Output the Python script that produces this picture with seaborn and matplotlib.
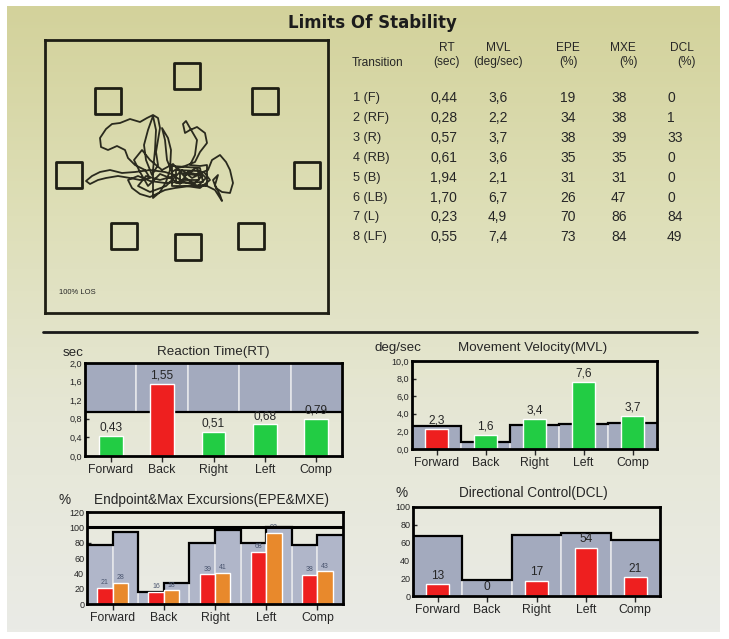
import numpy as np
import pandas as pd
import matplotlib
matplotlib.use("Agg")
import matplotlib.pyplot as plt
from matplotlib.colors import LinearSegmentedColormap
from matplotlib.ticker import FuncFormatter
import seaborn as sns

# ---- values ----
transitions = ["1 (F)", "2 (RF)", "3 (R)", "4 (RB)", "5 (B)", "6 (LB)", "7 (L)", "8 (LF)"]
rt_table = [0.44, 0.28, 0.57, 0.61, 1.94, 1.70, 0.23, 0.55]
mvl_table = [3.6, 2.2, 3.7, 3.6, 2.1, 6.7, 4.9, 7.4]
epe_table = [19, 34, 38, 35, 31, 26, 70, 73]
mxe_table = [38, 38, 39, 35, 31, 47, 86, 84]
dcl_table = [0, 1, 33, 0, 0, 0, 84, 49]

directions = ["Forward", "Back", "Right", "Left", "Comp"]
rt_values = [0.43, 1.55, 0.51, 0.68, 0.79]
rt_norm = [0.95, 0.95, 0.95, 0.95, 0.95]
mvl_values = [2.3, 1.6, 3.4, 7.6, 3.7]
mvl_norm = [2.6, 0.8, 2.7, 2.8, 3.0]
epe_values = [21, 16, 39, 68, 38]
mxe_values = [28, 18, 41, 93, 43]
epe_norm = [77, 16, 80, 80, 77]
mxe_norm = [94, 28, 96, 100, 90]
dcl_values = [13, 0, 17, 54, 21]
dcl_norm = [67, 18, 68, 71, 63]

# LOS screen: target boxes and the COG trace (screen pixel coords)
target_x = [187, 265, 307, 251, 188, 124, 69, 108]
target_y = [76, 101, 175, 236, 247, 236, 175, 101]
trace = [
    (175, 175), (165, 172), (150, 170), (135, 172), (122, 173), (110, 170), (100, 172), (92, 176),
    (86, 181), (90, 184), (98, 180), (106, 178), (118, 176), (130, 178), (140, 180), (150, 178),
    (145, 170), (135, 165), (128, 158), (125, 150), (117, 146), (108, 150), (101, 147), (100, 138),
    (106, 129), (112, 124), (120, 123), (130, 119), (140, 122), (147, 118), (153, 115), (158, 118),
    (160, 128), (158, 140), (156, 152), (158, 165), (152, 175), (146, 160), (144, 145), (148, 130),
    (153, 116), (156, 130), (155, 150), (153, 170), (153, 190), (153, 198), (160, 192), (166, 182),
    (170, 170), (171, 150), (168, 138), (162, 128), (165, 140), (167, 160), (172, 172), (178, 168),
    (185, 166), (195, 162), (200, 152), (207, 143), (205, 133), (197, 127), (190, 130), (185, 133),
    (183, 124), (186, 121), (190, 128), (197, 140), (195, 155), (190, 165), (200, 166), (207, 165),
    (207, 186), (172, 186), (172, 166), (200, 168), (203, 182), (176, 183), (176, 170), (198, 171),
    (199, 180), (180, 180), (180, 173), (195, 175), (208, 170), (212, 160), (220, 155), (226, 162),
    (230, 170), (233, 183), (230, 193), (222, 192), (216, 188), (213, 180), (218, 175), (215, 185),
    (220, 195), (222, 201), (215, 190), (205, 185), (190, 186), (175, 188), (165, 190), (150, 197),
    (140, 194), (132, 188), (128, 180), (138, 176), (150, 181), (165, 183), (178, 182),
    (186, 178), (194, 184), (202, 176), (188, 172), (180, 184), (170, 178), (160, 174), (148, 186),
    (140, 172), (134, 160), (142, 150), (150, 160), (162, 170), (173, 164), (184, 176), (196, 168),
    (206, 178), (198, 186), (184, 182), (174, 176), (160, 180), (146, 176), (138, 186), (150, 192),
    (166, 186), (182, 170), (192, 178), (204, 172), (210, 180), (200, 188), (186, 186),
]
trace_x = [p[0] for p in trace]
trace_y = [p[1] for p in trace]

RED = "#ee1f1f"
GREEN = "#22cc44"
ORANGE = "#e8892c"
GRAY = "#a3aabe"
INK = "#262626"

W, H = 729, 639
sns.set_theme(style="white")
plt.rcParams["font.family"] = ["Liberation Sans", "DejaVu Sans"]

fig = plt.figure(figsize=(W / 100, H / 100), dpi=100)
fig.patch.set_facecolor("white")


def rect(l, t, r, b):
    return [l / W, 1 - b / H, (r - l) / W, (b - t) / H]


def ftext(x, y, s, **kw):
    kw.setdefault("color", INK)
    fig.text(x / W, 1 - y / H, s, **kw)


# photo background: yellowish top fading into grey-white
bg = fig.add_axes([0, 0, 1, 1], zorder=-5)
bg.set_xlim(0, W)
bg.set_ylim(H, 0)
bg.axis("off")
cmap = LinearSegmentedColormap.from_list("bg", ["#d3d29b", "#dedfb8", "#e6e7d6", "#eaebe6"])
bg.imshow(np.linspace(0, 1, 200)[:, None], cmap=cmap, aspect="auto", extent=(7, 720, 632, 6))
bg.plot([43, 697], [332, 332], color="#1a1a1a", lw=2)

ftext(372, 23, "Limits Of Stability", fontsize=12, fontweight="heavy",
      family="DejaVu Sans", ha="center", va="center", color="#1c1c1c")

# ---- LOS screen ----
los = fig.add_axes(rect(45, 40, 328, 313))
los.set_xlim(45, 328)
los.set_ylim(313, 40)
los.set_facecolor("none")
los.set_xticks([])
los.set_yticks([])
for s in los.spines.values():
    s.set_color("#1e1e14")
    s.set_linewidth(2)
los.scatter(target_x, target_y, marker="s", s=330, facecolors="none",
            edgecolors="#1e1e14", linewidths=2)
los.plot(trace_x, trace_y, color="#2a2a1e", lw=1.3)
los.text(59, 293, "100% LOS", fontsize=5.5, color=INK, va="center")

# ---- table ----
hdr = dict(fontsize=8.6, ha="center", va="center")
ftext(377, 63, "Transition", **hdr)
for x, top, bot in [(447, "RT", "(sec)"), (498, "MVL", "(deg/sec)"), (568, "EPE", "(%)"),
                    (623, "MXE", "(%)"), (682, "DCL", "(%)")]:
    ftext(x, 48, top, **hdr)
    ftext(x + (5 if top in ("MXE", "DCL") else 0), 62, bot, **hdr)

cell = dict(fontsize=10, va="center")
for i, name in enumerate(transitions):
    y = 98 + 19.9 * i
    ftext(353, y, name, fontsize=9.2, va="center")
    ftext(430, y, f"{rt_table[i]:.2f}".replace(".", ","), **cell)
    ftext(488, y, f"{mvl_table[i]:.1f}".replace(".", ","), **cell)
    ftext(560, y, str(epe_table[i]), **cell)
    ftext(611, y, str(mxe_table[i]), **cell)
    ftext(667, y, str(dcl_table[i]), **cell)


# ---- bar panels ----
def style_axis(ax, ymax, step, fmt):
    ax.set_facecolor("none")
    ax.set_xlim(-0.5, 4.5)
    ax.set_ylim(0, ymax)
    ax.set_yticks(np.arange(0, ymax + step / 2, step))
    ax.yaxis.set_major_formatter(FuncFormatter(fmt))
    ax.set_xticks(range(5))
    ax.set_xticklabels(directions)
    ax.set_xlabel("")
    ax.set_ylabel("")
    ax.tick_params(axis="y", direction="in", length=3, width=1, labelsize=6.5,
                   pad=2, colors=INK, left=True)
    ax.tick_params(axis="x", direction="out", length=4, width=1, labelsize=8.8,
                   pad=2, colors=INK, bottom=True)
    for s in ax.spines.values():
        s.set_color("black")
        s.set_linewidth(2)
        s.set_zorder(6)


comma1 = lambda v, p: f"{v:.1f}".replace(".", ",")
plain = lambda v, p: f"{v:.0f}"
edges = np.arange(6) - 0.5

# Reaction time
ax = fig.add_axes(rect(85, 363, 342, 456))
ax.bar(range(5), [2.0 - n for n in rt_norm], bottom=rt_norm, width=1,
       color=GRAY, edgecolor="#e4e6ea", lw=1.2, zorder=1)
ax.stairs(rt_norm, edges, baseline=None, color="black", lw=1.6, zorder=2)
rt_df = pd.DataFrame({"dir": directions, "val": rt_values})
rt_cols = [RED if v > n else GREEN for v, n in zip(rt_values, rt_norm)]
sns.barplot(data=rt_df, x="dir", y="val", hue="dir", palette=dict(zip(directions, rt_cols)),
            width=0.46, saturation=1, legend=False, ax=ax, zorder=3)
for i, v in enumerate(rt_values):
    ax.text(i, v + 0.05, f"{v:.2f}".replace(".", ","), ha="center", va="bottom",
            fontsize=8.6, color=INK, zorder=4)
style_axis(ax, 2.0, 0.4, comma1)
ftext(213, 352, "Reaction Time(RT)", fontsize=9.6, ha="center", va="center")
ftext(73, 353, "sec", fontsize=9.6, ha="center", va="center")

# Movement velocity
ax = fig.add_axes(rect(412, 361, 657, 449))
ax.bar(range(5), mvl_norm, width=1, color=GRAY, edgecolor="#e4e6ea", lw=1.2, zorder=1)
ax.stairs(mvl_norm, edges, baseline=None, color="black", lw=1.6, zorder=2)
mvl_df = pd.DataFrame({"dir": directions, "val": mvl_values})
mvl_cols = [RED if v < n else GREEN for v, n in zip(mvl_values, mvl_norm)]
sns.barplot(data=mvl_df, x="dir", y="val", hue="dir", palette=dict(zip(directions, mvl_cols)),
            width=0.48, saturation=1, legend=False, ax=ax, zorder=3)
for i, v in enumerate(mvl_values):
    ax.text(i, v + 0.3, f"{v:.1f}".replace(".", ","), ha="center", va="bottom",
            fontsize=8.6, color=INK, zorder=4)
style_axis(ax, 10.0, 2.0, comma1)
ftext(533, 348, "Movement Velocity(MVL)", fontsize=9.6, ha="center", va="center")
ftext(398, 348, "deg/sec", fontsize=9.6, ha="center", va="center")

# Endpoint & max excursion
ax = fig.add_axes(rect(87, 512, 343, 604))
x = np.arange(5)
ax.bar(x - 0.25, epe_norm, width=0.5, color="#b0b6c9", edgecolor="#e4e6ea", lw=1.2, zorder=1)
ax.bar(x + 0.25, mxe_norm, width=0.5, color="#b0b6c9", edgecolor="#e4e6ea", lw=1.2, zorder=1)
both_norm = [v for pair in zip(epe_norm, mxe_norm) for v in pair]
ax.stairs(both_norm, np.arange(11) * 0.5 - 0.5, baseline=None, color="black", lw=1.6, zorder=2)
ax.axhline(100, color="black", lw=2.2, zorder=5)
exc_df = pd.DataFrame({
    "dir": directions * 2,
    "val": epe_values + mxe_values,
    "kind": ["EPE"] * 5 + ["MXE"] * 5,
})
sns.barplot(data=exc_df, x="dir", y="val", hue="kind", palette={"EPE": RED, "MXE": ORANGE},
            width=0.6, saturation=1, legend=False, ax=ax, zorder=3)
for i in range(5):
    ax.text(i - 0.15, epe_values[i] + 2, str(epe_values[i]), ha="center", va="bottom",
            fontsize=5, color="#4b5670", zorder=4)
    ax.text(i + 0.15, mxe_values[i] + 2, str(mxe_values[i]), ha="center", va="bottom",
            fontsize=5, color="#4b5670", zorder=4)
style_axis(ax, 120, 20, plain)
ftext(212, 500, "Endpoint&Max Excursions(EPE&MXE)", fontsize=9.8, ha="center", va="center")
ftext(65, 500, "%", fontsize=9.8, ha="center", va="center")

# Directional control
ax = fig.add_axes(rect(413, 507, 660, 596))
ax.bar(range(5), dcl_norm, width=1, color=GRAY, edgecolor="#e4e6ea", lw=1.2, zorder=1)
ax.stairs(dcl_norm, edges, baseline=None, color="black", lw=1.6, zorder=2)
dcl_df = pd.DataFrame({"dir": directions, "val": dcl_values})
sns.barplot(data=dcl_df, x="dir", y="val", hue="dir", palette=dict(zip(directions, [RED] * 5)),
            width=0.46, saturation=1, legend=False, ax=ax, zorder=3)
for i, v in enumerate(dcl_values):
    ax.text(i, v + 3, str(v), ha="center", va="bottom", fontsize=8.6, color=INK, zorder=4)
style_axis(ax, 100, 20, plain)
ftext(533, 493, "Directional Control(DCL)", fontsize=9.8, ha="center", va="center")
ftext(402, 493, "%", fontsize=9.8, ha="center", va="center")

fig.savefig("out.png", dpi=100)
